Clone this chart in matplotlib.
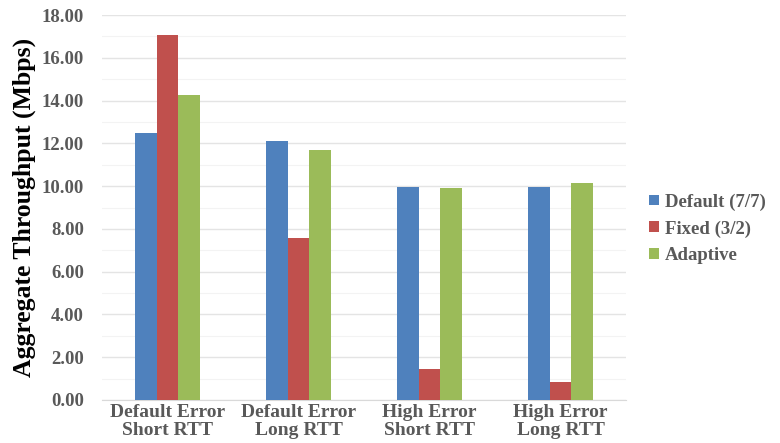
import numpy as np
from matplotlib import pyplot as plt
from matplotlib.ticker import MultipleLocator

# throughput per scenario (Mbps)
categories = ['Default Error\nShort RTT', 'Default Error\nLong RTT',
              'High Error\nShort RTT', 'High Error\nLong RTT']
series_names = ['Default (7/7)', 'Fixed (3/2)', 'Adaptive']
default_vals = [12.47, 12.11, 9.97, 9.95]
fixed_vals = [17.05, 7.56, 1.43, 0.83]
adaptive_vals = [14.26, 11.69, 9.93, 10.13]

colors = ['#4F81BD', '#C0504D', '#9BBB59']
TEXT_GREY = '#595959'

plt.rcParams['font.family'] = ['Liberation Serif', 'DejaVu Serif']
plt.rcParams['font.weight'] = 'bold'

fig = plt.figure(figsize=(7.8, 4.43), dpi=100)
ax = fig.add_axes([0.1308, 0.0971, 0.6718, 0.8689])

x = np.arange(len(categories))
width = 0.5 / 3
for i, (vals, name) in enumerate(zip([default_vals, fixed_vals, adaptive_vals], series_names)):
    ax.bar(x + (i - 1) * width, vals, width, color=colors[i], label=name, zorder=3)

ax.set_xlim(-0.5, len(categories) - 0.5)
ax.set_ylim(0, 18)
ax.yaxis.set_major_locator(MultipleLocator(2))
ax.yaxis.set_minor_locator(MultipleLocator(1))
ax.set_yticklabels([f'{v:.2f}' for v in ax.get_yticks()])
ax.set_xticks(x)
ax.set_xticklabels(categories, fontsize=14, color=TEXT_GREY, fontweight='bold', linespacing=1.05)

ax.grid(axis='y', which='major', color='#e4e4e4', linewidth=1.0, zorder=0)
ax.grid(axis='y', which='minor', color='#f3f3f3', linewidth=0.8, zorder=0)
ax.tick_params(axis='y', which='both', length=0, labelsize=13.5, labelcolor=TEXT_GREY, pad=13)
ax.tick_params(axis='x', length=0, pad=3)
for side in ['top', 'right', 'left']:
    ax.spines[side].set_visible(False)
ax.spines['bottom'].set_color('#d9d9d9')

ax.set_ylabel('Aggregate Throughput (Mbps)', fontsize=18.5, fontweight='bold', labelpad=4)

ax.legend(loc='center left', bbox_to_anchor=(1.012, 0.445), frameon=False,
          prop={'size': 13.5, 'weight': 'bold'}, handlelength=0.5, handleheight=0.5,
          handletextpad=0.35, labelspacing=0.5, labelcolor=TEXT_GREY)

fig.savefig('out.png', dpi=100)
